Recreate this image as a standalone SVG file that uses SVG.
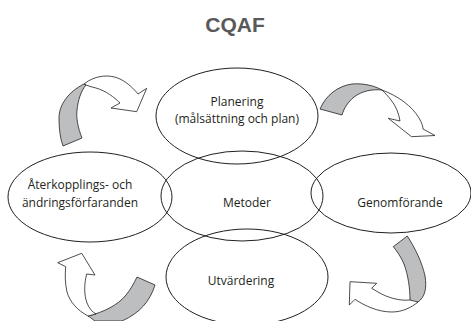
<svg xmlns="http://www.w3.org/2000/svg" width="471" height="321" viewBox="0 0 471 321">
<style>
.bg{fill:#ffffff}
.node{fill:none;stroke:#231f20;stroke-width:1}
.lbl{font-family:"Open Sans","Noto Sans",sans-serif;font-size:12px;fill:#231f20;text-anchor:middle}
.title{font-family:"Liberation Sans",Arial,sans-serif;font-size:21px;font-weight:bold;fill:#58595b;text-anchor:middle}
.band{fill:#bcbec0;stroke:#231f20;stroke-width:0.8;stroke-linejoin:round}
.head{fill:#ffffff;stroke:#231f20;stroke-width:0.8;stroke-linejoin:round}
</style>
<rect class="bg" x="0" y="0" width="471" height="321"/>
<text class="title" x="235" y="32">CQAF</text>
<g id="connectors">
  <g id="arrow-top-left">
    <path class="band" d="M84,84 C68,92 59,105 59,118 C59,128 60,138 63,146 L82,138 C78,128 76,118 77,110 C78,100 81,91 86,85 Z"/>
    <path class="head" d="M84,84 C95,75 110,74 120,79 C128,83 134,89 138,94 L146.7,88.3 L136.7,111.7 L111,108 L120,103 C114,97 106,91 96,88 C92,87 88,86 84,84 Z"/>
  </g>
  <g id="arrow-top-right">
    <path class="band" d="M320,109 C326,95 338,86 352,84 C364,83 375,86 382,90 C372,89 362,91 354,97 C348,102 344,108 342,115 Z"/>
    <path class="head" d="M382,90 C398,96 412,106 419,118 C422,123 423,127 423,129 L435,135.5 L411.5,136.7 L388.3,118.3 L400,121 C399,114 396,106 391,100 C388,96 385,93 382,90 Z"/>
  </g>
  <g id="arrow-bottom-right">
    <path class="band" d="M393.3,246.7 L407.3,236 C415,248 422,262 425,276 C427,288 425,297 418,302 C414,304 411,303 410,300 C410,288 408,275 404,264 C401,257 397,251 393.3,246.7 Z"/>
    <path class="head" d="M410,300 C400,301 388,298 378,292 L371.7,288.3 L376.7,283.3 L350,281.7 L349.3,305 L355,299.3 C365,306 378,312 392,312 C403,312 412,307 418,302 Z"/>
  </g>
  <g id="arrow-bottom-left">
    <path class="band" d="M137,277 L155,285 C150,301 140,313 122,321 L95,321 C92,319 90,317 88,316 C104,312 118,305 126,295 C131,289 134,283 137,277 Z"/>
    <path class="head" d="M88,316 C77,310 70,302 67,292 C65,283 65,275 65.7,266.7 L57.7,262.7 L81.7,253.3 L95,275 L86.7,274 C84,284 84,295 87,303 C89,308 92,312 96,314 Z"/>
  </g>
</g>
<g id="node-planering">
  <ellipse class="node" cx="237" cy="116" rx="81" ry="48"/>
  <text class="lbl" x="237" y="106">Planering</text>
  <text class="lbl" x="237" y="123">(målsättning och plan)</text>
</g>
<g id="node-aterkoppling">
  <ellipse class="node" cx="90" cy="197" rx="82" ry="45"/>
  <text class="lbl" x="80" y="189">Återkopplings- och</text>
  <text class="lbl" x="80" y="207">ändringsförfaranden</text>
</g>
<g id="node-metoder">
  <ellipse class="node" cx="242" cy="196" rx="81" ry="45"/>
  <text class="lbl" x="247" y="207">Metoder</text>
</g>
<g id="node-genomforande">
  <ellipse class="node" cx="391" cy="193" rx="80" ry="40"/>
  <text class="lbl" x="400" y="207">Genomförande</text>
</g>
<g id="node-utvardering">
  <ellipse class="node" cx="247" cy="277" rx="81" ry="48"/>
  <text class="lbl" x="241" y="285">Utvärdering</text>
</g>
</svg>
